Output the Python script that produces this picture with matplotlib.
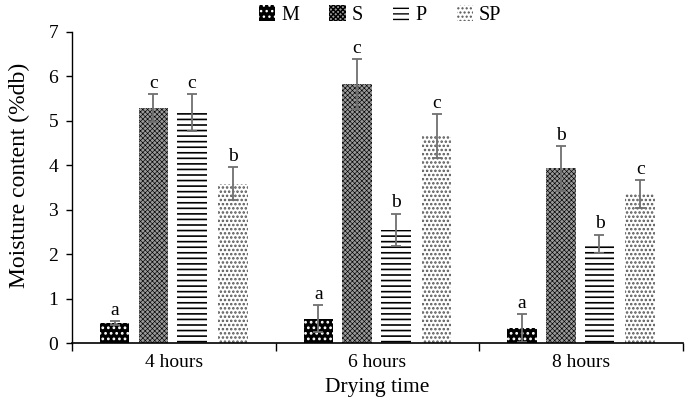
import numpy as np
import matplotlib
matplotlib.use("Agg")
import matplotlib.pyplot as plt

plt.rcParams['font.family'] = ['Liberation Serif', 'DejaVu Serif']
plt.rcParams['hatch.linewidth'] = 1.0

# data
times = ["4 hours", "6 hours", "8 hours"]
series = ["M", "S", "P", "SP"]
M = [0.45, 0.55, 0.34]
S = [5.28, 5.82, 3.93]
P = [5.18, 2.55, 2.23]
SP = [3.58, 4.65, 3.35]
M_err = [0.05, 0.30, 0.32]
S_err = [0.32, 0.56, 0.50]
P_err = [0.42, 0.36, 0.21]
SP_err = [0.37, 0.50, 0.32]
M_lab = ["a", "a", "a"]
S_lab = ["c", "c", "b"]
P_lab = ["c", "b", "b"]
SP_lab = ["b", "c", "c"]

values = [M, S, P, SP]
errors = [M_err, S_err, P_err, SP_err]
letters = [M_lab, S_lab, P_lab, SP_lab]

# bar styles: facecolor, hatch colour, hatch
styles = [
    ("black", "white", "..."),
    ("#9a9a9a", "black", "xxxxxxx"),
    ("white", "black", "---"),
    ("white", "#555555", "...."),
]

fig = plt.figure(figsize=(6.85, 4.11), dpi=100)
ax = fig.add_axes([0.105, 0.165, 0.892, 0.758])

x = np.arange(len(times))
offsets = [-0.29, -0.10, 0.09, 0.29]
width = 0.145

handles = []
for i, name in enumerate(series):
    fc, hc, hatch = styles[i]
    lw_h = 0.45 if i == 1 else 1.2
    with plt.rc_context({'hatch.linewidth': lw_h}):
        bars = ax.bar(x + offsets[i], values[i], width, color=fc, edgecolor=hc,
                      hatch=hatch, linewidth=0, label=name)
    handles.append(bars)
    ax.errorbar(x + offsets[i], values[i], yerr=errors[i], fmt='none',
                ecolor='#707070', elinewidth=1.3, capsize=3.8, capthick=1.3)
    for xi, v, e, t in zip(x + offsets[i], values[i], errors[i], letters[i]):
        ax.text(xi, v + e + 0.05, t, ha='center', va='bottom', fontsize=14)

ax.set_xlim(-0.5, 2.5)
ax.set_ylim(0, 7)
ax.set_yticks(range(8))
ax.set_xticks(x)
ax.set_xticklabels(times)
ax.set_xticks([-0.5, 0.5, 1.5, 2.5], minor=True)
ax.tick_params(axis='x', which='major', length=0, pad=8, labelsize=14)
ax.tick_params(axis='x', which='minor', length=6, width=1, direction='out')
ax.tick_params(axis='y', length=4, width=1, labelsize=14, pad=6)
for s in ['top', 'right']:
    ax.spines[s].set_visible(False)
ax.spines['left'].set_linewidth(1.0)
ax.spines['bottom'].set_linewidth(1.2)

ax.set_xlabel("Drying time", fontsize=15.5, labelpad=5)
ax.set_ylabel("Moisture content (%db)", fontsize=17)
ax.yaxis.set_label_coords(-0.069, 0.54)

fig.legend(handles, series, loc='center', bbox_to_anchor=(0.555, 0.963),
           ncol=4, frameon=False, fontsize=14.5, handlelength=0.8,
           handleheight=0.8, handletextpad=0.3, columnspacing=1.5)

fig.savefig("out.png", dpi=100)
